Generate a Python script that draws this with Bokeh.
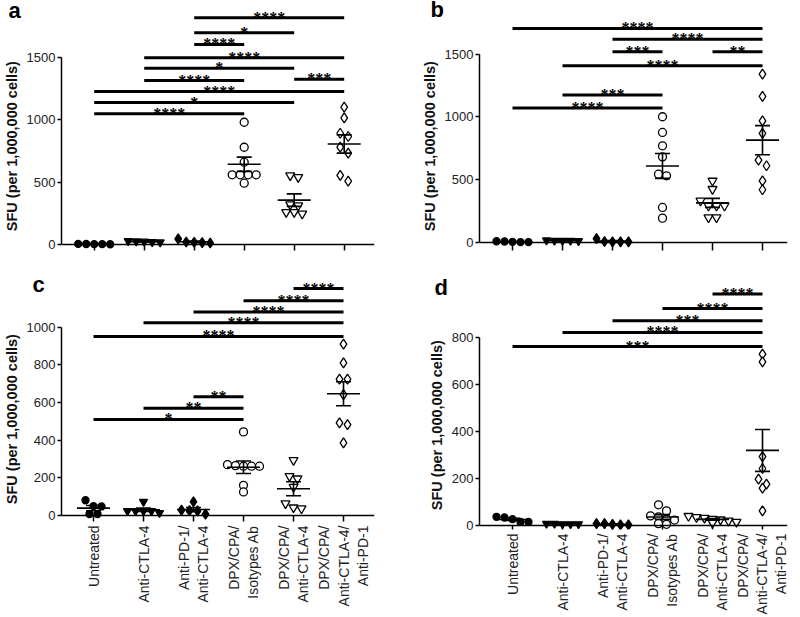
import math
import numpy as np
from bokeh.plotting import figure
from bokeh.layouts import gridplot
from bokeh.models import Span, LabelSet, ColumnDataSource, FixedTicker, Range1d
from bokeh.embed import file_html
from bokeh.resources import INLINE

FONT = "Liberation Sans"
NBSP = "\u00a0"

groups = ["Untreated", "Anti-CTLA-4", "Anti-PD-1/\nAnti-CTLA-4", "DPX/CPA/\nIsotypes Ab",
          "DPX/CPA/\nAnti-CTLA-4", "DPX/CPA/\nAnti-CTLA-4/\nAnti-PD-1"]

# ---- panel a values (SFU per 1,000,000 cells) ----
a_values = [
    [3, 5, 2, 4, 3],
    [20, 28, 24, 18, 26],
    [45, 18, 15, 20, 12],
    [979, 779, 659, 558, 558, 558, 558, 491],
    [553, 539, 320, 312, 259, 259, 246],
    [1100, 1014, 891, 865, 779, 731, 553, 507],
]
a_sig_left = [3, 3, 3, 2, 2, 2, 5, 1, 1, 1]
a_sig_right = [6, 5, 4, 6, 5, 4, 6, 6, 5, 4]
a_sig_y = [1815, 1695, 1602, 1495, 1412, 1313, 1324, 1225, 1137, 1047]
a_sig_text = ["****", "*", "****", "****", "*", "****", "***", "****", "*", "****"]

# ---- panel b ----
b_values = [
    [5, 10, 3, 8, 3],
    [15, 18, 15, 15, 12],
    [5, 30, 8, 5, 5],
    [1001, 876, 770, 682, 544, 531, 279, 194],
    [491, 425, 332, 292, 292, 292, 199, 199],
    [1341, 1163, 969, 868, 656, 611, 491, 420],
]
b_sig_left = [1, 3, 3, 5, 2, 2, 1]
b_sig_right = [6, 6, 4, 6, 6, 4, 4]
b_sig_y = [1704, 1619, 1518, 1518, 1407, 1174, 1070]
b_sig_text = ["****", "****", "***", "**", "****", "***", "****"]

# ---- panel c ----
c_values = [
    [81, 50, 48, 8, 8],
    [73, 24, 24, 24, 24, 14],
    [73, 28, 26, 24, 7],
    [444, 270, 265, 262, 262, 262, 160, 125],
    [294, 209, 196, 152, 64, 42, 37],
    [910, 810, 724, 724, 642, 492, 483, 386],
]
c_sig_left = [5, 4, 3, 2, 1, 3, 2, 1]
c_sig_right = [6, 6, 6, 6, 6, 4, 4, 4]
c_sig_y = [1205, 1140, 1081, 1023, 951, 630, 570, 510]
c_sig_text = ["****", "****", "****", "****", "****", "**", "**", "*"]

# ---- panel d ----
d_values = [
    [37, 34, 27, 15, 15],
    [8, 6, 8, 6, 6],
    [8, 8, 5, 3, 3],
    [88, 62, 41, 37, 27, 23, 8, 5],
    [40, 35, 32, 28, 25, 20, 15, 12],
    [728, 695, 292, 242, 197, 176, 159, 62],
]
d_sig_left = [5, 4, 3, 2, 1]
d_sig_right = [6, 6, 6, 6, 6]
d_sig_y = [983, 921, 869, 820, 760]
d_sig_text = ["****", "****", "***", "****", "***"]

MARKERS = [("circle", True, 7), ("inverted_triangle", True, 8), ("diamond", True, 10),
           ("circle", False, 8), ("inverted_triangle", False, 9), ("diamond", False, 10)]


def swarm(vals, k, d=8.0):
    order = sorted(range(len(vals)), key=lambda i: -vals[i])
    rows = []
    for i in order:
        if rows and (vals[rows[-1][0]] - vals[i]) * k < d * 0.8:
            rows[-1].append(i)
        else:
            rows.append([i])
    offs = [0.0] * len(vals)
    for r in rows:
        n = len(r)
        for j, i in enumerate(r):
            offs[i] = (j - (n - 1) / 2) * d / 50.0
    return offs


def make_panel(letter, values, sl, sr, sy, st, yticks, k, frame_w, frame_h, gap,
               left, right, top, bottom, x_start, title_cfg, label_pad, show_labels):
    y_start = -gap / k
    y_end = y_start + frame_h / k
    p = figure(frame_width=frame_w, frame_height=frame_h,
               x_range=Range1d(x_start, x_start + frame_w / 50.0),
               y_range=Range1d(y_start, y_end),
               output_backend="svg", toolbar_location=None,
               min_border_left=left, min_border_right=right,
               min_border_top=top, min_border_bottom=bottom)
    p.outline_line_color = None
    p.grid.visible = False
    p.background_fill_color = "white"

    # panel letter as the plot title, pulled over the margin
    offset, standoff, lh = title_cfg
    p.title.text = "\n" + letter
    p.title.align = "left"
    p.title.vertical_align = "middle"
    p.title.offset = offset
    p.title.standoff = standoff
    p.title.text_line_height = lh
    p.title.text_font = FONT
    p.title.text_font_style = "bold"
    p.title.text_font_size = "22px"
    p.title.text_color = "black"

    # data points
    for gi, vals in enumerate(values):
        m, filled, sz = MARKERS[gi]
        offs = swarm(vals, k)
        xs = [gi + 1 + o for o in offs]
        p.scatter(x=xs, y=vals, marker=m, size=sz,
                  fill_color="black" if filled else "white",
                  line_color="black", line_width=1.3)
        arr = np.array(vals, dtype=float)
        mean = arr.mean()
        sem = arr.std(ddof=1) / np.sqrt(len(arr))
        c = gi + 1
        p.segment(x0=[c - 0.33, c, c - 0.15, c - 0.15], y0=[mean, mean - sem, mean - sem, mean + sem],
                  x1=[c + 0.33, c, c + 0.15, c + 0.15], y1=[mean, mean + sem, mean - sem, mean + sem],
                  line_color="black", line_width=1.6)

    # significance bars
    p.segment(x0=sl, y0=sy, x1=sr, y1=sy, line_color="black", line_width=3)
    src = ColumnDataSource(dict(x=[(a + b) / 2 for a, b in zip(sl, sr)], y=sy, t=st))
    p.add_layout(LabelSet(x="x", y="y", text="t", source=src, text_align="center",
                          text_baseline="alphabetic", text_font=FONT, text_font_size="16px",
                          text_font_style="bold", text_color="black", y_offset=-5))

    # zero line (x axis)
    p.add_layout(Span(location=0, dimension="width", line_color="black", line_width=1.5))

    # y axis
    yax = p.yaxis[0]
    yax.bounds = (0, yticks[-1])
    yax.ticker = FixedTicker(ticks=yticks)
    yax.axis_label = "SFU (per 1,000,000 cells)" + NBSP * label_pad
    yax.axis_label_text_font = FONT
    yax.axis_label_text_font_style = "bold"
    yax.axis_label_text_font_size = "14.5px"
    yax.axis_label_text_color = "#111111"
    yax.axis_label_standoff = 4
    yax.major_label_text_font = FONT
    yax.major_label_text_font_size = "13px"
    yax.major_label_text_color = "#222222"
    yax.major_label_standoff = 2
    yax.major_tick_in = 0
    yax.major_tick_out = 4
    yax.minor_tick_line_color = None
    yax.axis_line_width = 1.5
    yax.major_tick_line_width = 1.5

    # x axis
    xax = p.xaxis[0]
    xax.ticker = FixedTicker(ticks=[1, 2, 3, 4, 5, 6])
    if show_labels:
        xax.major_label_overrides = {i + 1: g for i, g in enumerate(groups)}
        xax.major_label_text_font_size = "14px"
    else:
        xax.major_label_overrides = {i + 1: "" for i in range(6)}
        xax.major_label_text_font_size = "1px"
    xax.major_label_orientation = math.pi / 2
    xax.major_label_text_font = FONT
    xax.major_label_text_color = "#222222"
    xax.major_label_standoff = 4
    xax.axis_line_color = None
    xax.major_tick_in = gap
    xax.major_tick_out = 0
    xax.major_tick_line_width = 1.5
    xax.minor_tick_line_color = None
    return p


pa = make_panel("a", a_values, a_sig_left, a_sig_right, a_sig_y, a_sig_text,
                [0, 500, 1000, 1500], 187.3 / 1500, 313, 245, 6,
                56, 23, 5, 10, 0.346, (-53, -52, 0.4), 9, False)
pb = make_panel("b", b_values, b_sig_left, b_sig_right, b_sig_y, b_sig_text,
                [0, 500, 1000, 1500], 188.4 / 1500, 308, 245, 8,
                82, 2, 5, 10, 0.34, (-49, -52, 0.33), 9, False)
pc = make_panel("c", c_values, c_sig_left, c_sig_right, c_sig_y, c_sig_text,
                [0, 200, 400, 600, 800, 1000], 188.3 / 1000, 313, 245, 6,
                56, 23, 16, 94, 0.36, (-29, -53, 0.61), 10, True)
pd = make_panel("d", d_values, d_sig_left, d_sig_right, d_sig_y, d_sig_text,
                [0, 200, 400, 600, 800], 188.4 / 800, 308, 253, 4,
                82, 2, 16, 86, 0.34, (-45, -74, 0.91), 11, True)

grid = gridplot([[pa, pb], [pc, pd]], toolbar_location=None)

open("out.html", "w").write(file_html(grid, INLINE))
